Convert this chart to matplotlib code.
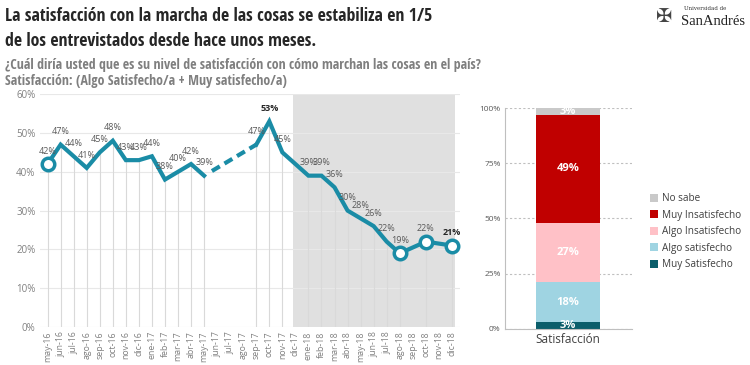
import numpy as np
import matplotlib.pyplot as plt

plt.rcParams['font.family'] = ['Open Sans', 'DejaVu Sans']
condensada = ['Open Sans Condensed', 'Roboto Condensed', 'Fira Sans Condensed',
              'Barlow Semi Condensed', 'Asap Condensed', 'DejaVu Sans']

# datos de la serie mensual (None = sin medición)
meses = ['may-16', 'jun-16', 'jul-16', 'ago-16', 'sep-16', 'oct-16', 'nov-16', 'dic-16',
         'ene-17', 'feb-17', 'mar-17', 'abr-17', 'may-17', 'jun-17', 'jul-17', 'ago-17',
         'sep-17', 'oct-17', 'nov-17', 'dic-17', 'ene-18', 'feb-18', 'mar-18', 'abr-18',
         'may-18', 'jun-18', 'jul-18', 'ago-18', 'sep-18', 'oct-18', 'nov-18', 'dic-18']
satisf = [42, 47, 44, 41, 45, 48, 43, 43, 44, 38, 40, 42, 39, None, None, None,
          47, 53, 45, None, 39, 39, 36, 30, 28, 26, 22, 19, None, 22, None, 21]

# barra apilada (último relevamiento)
categorias = ['Muy Satisfecho', 'Algo satisfecho', 'Algo Insatisfecho', 'Muy Insatisfecho', 'No sabe']
valores = [3, 18, 27, 49, 3]
colores = ['#0b5e6b', '#9fd4e2', '#ffc1c7', '#c00000', '#c9c9c9']

teal = '#1a8ca6'
gris = '#808080'

fig = plt.figure(figsize=(7.5, 3.65), dpi=100)

# títulos
fig.text(0.007, 0.956, 'La satisfacción con la marcha de las cosas se estabiliza en 1/5',
         fontsize=12.8, fontweight='bold', color='#262626', va='center', family=condensada)
fig.text(0.007, 0.888, 'de los entrevistados desde hace unos meses.',
         fontsize=12.8, fontweight='bold', color='#262626', va='center', family=condensada)
fig.text(0.007, 0.822, '¿Cuál diría usted que es su nivel de satisfacción con cómo marchan las cosas en el país?',
         fontsize=10, fontweight='bold', color='#7f7f7f', va='center', family=condensada)
fig.text(0.007, 0.779, 'Satisfacción: (Algo Satisfecho/a + Muy satisfecho/a)',
         fontsize=10, fontweight='bold', color='#7f7f7f', va='center', family=condensada)
# logo (sólo texto)
fig.text(0.912, 0.978, 'Universidad de', fontsize=4, family='DejaVu Serif', color='#333333', va='center')
fig.text(0.908, 0.94, 'SanAndrés', fontsize=10.5, family='Liberation Serif', color='#222222', va='center')
fig.text(0.885, 0.955, '✠', fontsize=14, family='DejaVu Sans', color='#444444', va='center', ha='center')

# ---- gráfico de línea
ax = fig.add_axes([0.053, 0.104, 0.56, 0.638])
x = np.arange(len(meses))
y = np.array([np.nan if v is None else v for v in satisf], dtype=float)
ok = ~np.isnan(y)

ax.axvspan(18.8, 31.25, color='#e0e0e0', zorder=0, lw=0)
for yy in range(0, 61, 10):
    ax.axhline(yy, color='#e8e8e8', lw=0.8, zorder=0.5)
ax.vlines(x[ok], 0, y[ok], color='#d9d9d9', lw=0.8, zorder=1)

xs, ys = x[ok], y[ok]
tramo1 = xs <= 12
ax.plot(xs[tramo1], ys[tramo1], color=teal, lw=3, zorder=3, solid_joinstyle='miter')
ax.plot(xs[~tramo1], ys[~tramo1], color=teal, lw=3, zorder=3, solid_joinstyle='miter')
ax.plot([12.6, 16], [y[12] + 1.2, y[16]], color=teal, lw=3, ls=(0, (2.2, 1.3)), zorder=3)

for i in [0, 27, 29, 31]:
    ax.plot(x[i], y[i], 'o', ms=9, mfc='white', mec=teal, mew=2.5, zorder=4)

for i in xs:
    destacado = i in (17, 31)
    ax.annotate(f'{int(y[i])}%', (i, y[i]), xytext=(0, 6), textcoords='offset points',
                ha='center', va='bottom', fontsize=6.5,
                color='#262626' if destacado else '#595959',
                fontweight='bold' if destacado else 'normal', zorder=5)

ax.set_xlim(-0.6, 31.6)
ax.set_ylim(0, 60)
ax.set_xticks(x)
ax.set_xticklabels(meses, rotation=90, fontsize=6.3, color=gris)
ax.set_yticks(range(0, 61, 10))
ax.set_yticklabels([f'{v}%' for v in range(0, 61, 10)], fontsize=7, color=gris)
ax.tick_params(length=0, pad=3)
for s in ax.spines.values():
    s.set_visible(False)

# ---- barra apilada
bx = fig.add_axes([0.673, 0.099, 0.169, 0.605])
base = 0
for cat, val, col in zip(categorias, valores, colores):
    bx.bar(0, val, width=0.5, bottom=base, color=col, label=cat, zorder=2)
    bx.text(0, base + val / 2, f'{val}%', ha='center', va='center', fontsize=8,
            fontweight='bold', color='white', zorder=3)
    base += val

bx.set_xlim(-0.5, 0.5)
bx.set_ylim(0, 100)
bx.set_yticks([0, 25, 50, 75, 100])
bx.set_yticklabels(['0%', '25%', '50%', '75%', '100%'], fontsize=6, color='#595959')
bx.set_xticks([0])
bx.set_xticklabels(['Satisfacción'], fontsize=8.5, color='#404040')
bx.tick_params(length=0, pad=3)
bx.yaxis.grid(True, ls=(0, (2, 2)), color='#bfbfbf', lw=0.8, zorder=0)
for s in ['top', 'right']:
    bx.spines[s].set_visible(False)
for s in ['left', 'bottom']:
    bx.spines[s].set_color('#bfbfbf')

h, l = bx.get_legend_handles_labels()
fig.legend(h[::-1], l[::-1], loc='center left', bbox_to_anchor=(0.855, 0.365), frameon=False,
           fontsize=7.2, handlelength=0.8, handleheight=0.8, handletextpad=0.4,
           labelspacing=0.55, labelcolor='#404040')

fig.savefig('out.png', dpi=100)
